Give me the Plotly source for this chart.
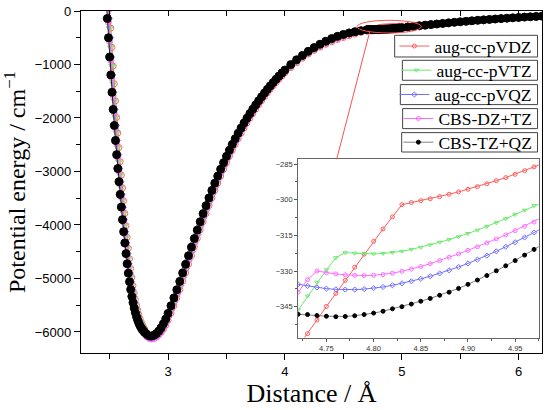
import plotly.graph_objects as go

# Distance grid (Å)
distance = [
    2.47, 2.48, 2.49, 2.50, 2.51, 2.52, 2.53, 2.54, 2.55, 2.56, 2.57, 2.58, 2.59, 2.60, 2.61, 2.62, 2.63,
    2.64, 2.65, 2.66, 2.67, 2.68, 2.69, 2.70, 2.71, 2.72, 2.73, 2.74, 2.75, 2.76, 2.77, 2.78, 2.79,
    2.80, 2.82, 2.84, 2.86, 2.88, 2.90, 2.92, 2.94, 2.96, 2.98,
    3.000, 3.025, 3.050, 3.075, 3.100, 3.125, 3.150, 3.175, 3.200, 3.225, 3.250, 3.275, 3.300, 3.325,
    3.350, 3.375, 3.400, 3.425, 3.450, 3.475, 3.500, 3.525, 3.550, 3.575, 3.600, 3.625, 3.650, 3.675,
    3.700, 3.725, 3.750, 3.775, 3.800, 3.825, 3.850, 3.875, 3.900, 3.925, 3.950, 3.975, 4.000,
    4.05, 4.10, 4.15, 4.20, 4.25, 4.30, 4.35, 4.40, 4.45, 4.50, 4.55, 4.60, 4.65,
    4.70, 4.71, 4.72, 4.73, 4.74, 4.75, 4.76, 4.77, 4.78, 4.79, 4.80, 4.81, 4.82, 4.83, 4.84, 4.85,
    4.86, 4.87, 4.88, 4.89, 4.90, 4.91, 4.92, 4.93, 4.94, 4.95, 4.96, 4.97, 4.98,
    5.00, 5.05, 5.10, 5.15, 5.20, 5.25, 5.30, 5.35, 5.40, 5.45, 5.50, 5.55, 5.60, 5.65, 5.70, 5.75,
    5.80, 5.85, 5.90, 5.95, 6.00, 6.05, 6.10, 6.15, 6.20,
]

# Potential energy (cm^-1)
e_avdz = [
    1100, 780, 420, 45, -320, -680, -1028, -1358, -1680, -1990, -2280, -2553, -2815, -3068, -3309, -3547, -3783,
    -4013, -4230, -4435, -4630, -4813, -4980, -5133, -5270, -5393, -5500, -5594, -5676, -5747, -5808, -5860, -5903,
    -5948, -6020, -6065, -6088, -6094, -6082, -6054, -6010, -5950, -5874,
    -5780, -5650, -5508, -5360, -5209, -5053, -4894, -4734, -4573, -4412, -4252, -4094, -3940, -3787,
    -3638, -3493, -3353, -3217, -3085, -2957, -2834, -2715, -2601, -2491, -2385, -2284, -2187, -2093,
    -2003, -1917, -1834, -1754, -1677, -1603, -1532, -1463, -1397, -1334, -1273, -1214, -1157,
    -1058, -967, -883, -806, -737, -676, -622, -575, -533, -496, -462, -431, -401,
    -373.0, -367.5, -362.0, -356.3, -350.6, -344.9, -339.4, -333.9, -328.4, -322.9, -317.5, -312.3, -307.2,
    -302.1, -301.2, -300.4, -299.6, -298.7, -297.7, -296.7, -295.6, -294.5, -293.3, -292.0, -290.7, -289.3,
    -287.8, -286.2, -284.6,
    -281.4, -273.4, -265.3, -257.1, -248.8, -240.4, -231.9, -223.4, -214.9, -206.4, -198.0, -189.8, -181.6,
    -173.5, -165.6, -157.8, -150.1, -142.6, -135.3, -128.2, -121.3, -114.6, -108.1, -101.8, -95.7,
]
e_avtz = [
    790, 415, 45, -320, -680, -1028, -1358, -1680, -1990, -2280, -2553, -2815, -3068, -3309, -3547, -3783, -4013,
    -4230, -4435, -4630, -4813, -4980, -5133, -5270, -5393, -5500, -5594, -5676, -5747, -5808, -5860, -5903, -5939,
    -5980, -6035, -6070, -6088, -6086, -6066, -6031, -5980, -5914, -5832,
    -5735, -5598, -5452, -5302, -5148, -4990, -4830, -4669, -4508, -4347, -4188, -4031, -3877, -3725,
    -3578, -3435, -3297, -3163, -3032, -2906, -2785, -2668, -2556, -2448, -2344, -2245, -2149, -2057,
    -1969, -1884, -1802, -1723, -1648, -1575, -1505, -1437, -1372, -1310, -1250, -1192, -1136,
    -1042, -952, -870, -795, -728, -668, -614, -566, -523, -484, -448, -416, -386,
    -357.8, -352.1, -346.3, -340.5, -334.7, -329.5, -324.4, -322.3, -322.5, -322.7, -322.8, -322.6, -322.2,
    -321.7, -320.9, -320.0, -319.0, -317.9, -316.8, -315.6, -314.2, -312.8, -311.3, -309.7, -308.0, -306.2,
    -304.4, -302.5, -300.6,
    -296.8, -287.3, -278.0, -268.8, -259.7, -250.7, -241.9, -231.5, -221.2, -211.2, -201.5, -192.0, -182.9,
    -174.0, -165.4, -157.1, -149.1, -141.4, -134.0, -126.9, -120.1, -113.6, -107.4, -101.5, -95.9,
]
e_avqz = [
    600, 230, -140, -500, -860, -1195, -1520, -1840, -2140, -2420, -2685, -2945, -3190, -3428, -3665, -3900, -4125,
    -4335, -4535, -4725, -4900, -5060, -5205, -5335, -5450, -5550, -5638, -5714, -5790, -5848, -5898, -5940, -5975,
    -6013, -6064, -6098, -6109, -6101, -6077, -6038, -5982, -5912, -5823,
    -5720, -5585, -5440, -5290, -5136, -4978, -4818, -4657, -4496, -4335, -4176, -4019, -3865, -3714,
    -3566, -3423, -3285, -3151, -3021, -2895, -2774, -2657, -2545, -2437, -2333, -2234, -2138, -2046,
    -1958, -1873, -1792, -1713, -1638, -1565, -1495, -1428, -1363, -1301, -1241, -1184, -1128,
    -1022, -930, -846, -770, -703, -643, -589, -541, -499, -461, -427, -396, -368,
    -340.5, -335.2, -335.6, -336.3, -336.9, -337.4, -337.7, -337.8, -337.8, -337.6, -337.2, -336.7, -336.0,
    -335.2, -334.3, -333.3, -332.2, -331.0, -329.7, -328.3, -326.8, -325.2, -323.5, -321.7, -319.8, -317.9,
    -315.9, -313.8, -311.7,
    -307.6, -297.6, -287.9, -276.6, -265.1, -253.8, -242.8, -232.1, -221.7, -211.6, -201.8, -192.3, -183.1,
    -174.2, -165.6, -157.3, -149.3, -141.6, -134.2, -127.1, -120.3, -113.8, -107.6, -101.7, -96.1,
]
e_cbs_dt = [
    530, 160, -210, -570, -925, -1260, -1585, -1900, -2195, -2475, -2735, -2995, -3238, -3475, -3707, -3940, -4163,
    -4373, -4572, -4760, -4933, -5090, -5233, -5362, -5477, -5577, -5666, -5744, -5815, -5875, -5927, -5970, -6007,
    -6045, -6095, -6122, -6131, -6123, -6098, -6056, -5998, -5923, -5831,
    -5722, -5586, -5441, -5291, -5137, -4979, -4819, -4658, -4497, -4337, -4178, -4021, -3867, -3716,
    -3569, -3427, -3289, -3155, -3025, -2899, -2778, -2662, -2550, -2442, -2338, -2239, -2143, -2051,
    -1963, -1878, -1797, -1718, -1643, -1570, -1500, -1433, -1368, -1306, -1246, -1188, -1133,
    -1025, -933, -850, -775, -708, -648, -595, -548, -506, -468, -434, -404, -376,
    -349.5, -344.2, -338.9, -333.6, -330.0, -330.7, -331.2, -331.6, -331.8, -331.9, -331.8, -331.5, -330.9,
    -330.1, -329.2, -328.1, -326.9, -325.6, -324.2, -322.8, -321.3, -319.8, -318.2, -316.5, -314.8, -313.0,
    -311.2, -309.4, -307.6,
    -303.9, -294.7, -285.6, -276.3, -265.0, -253.6, -242.6, -232.0, -221.6, -211.5, -201.7, -192.2, -183.0,
    -174.1, -165.5, -157.2, -149.2, -141.5, -134.1, -127.0, -120.2, -113.7, -107.5, -101.6, -96.0,
]
e_cbs_tq = [
    230, -140, -500, -860, -1195, -1520, -1840, -2140, -2420, -2685, -2945, -3190, -3428, -3665, -3900, -4125, -4335,
    -4535, -4725, -4900, -5060, -5205, -5335, -5450, -5550, -5638, -5714, -5780, -5836, -5883, -5922, -5955, -5983,
    -6008, -6048, -6074, -6077, -6061, -6030, -5984, -5923, -5848, -5758,
    -5653, -5510, -5363, -5211, -5055, -4896, -4736, -4575, -4414, -4254, -4096, -3941, -3788, -3639,
    -3494, -3354, -3218, -3086, -2958, -2835, -2716, -2602, -2492, -2386, -2285, -2188, -2094, -2004,
    -1918, -1835, -1755, -1678, -1604, -1533, -1464, -1398, -1335, -1274, -1215, -1158, -1104,
    -1002, -912, -830, -754, -684, -621, -565, -516, -474, -439, -410, -387, -368,
    -352.0, -349.8, -348.2, -348.3, -348.7, -349.0, -349.2, -349.1, -348.8, -348.3, -347.7, -346.9, -345.9,
    -345.0, -343.9, -342.7, -341.5, -340.2, -338.9, -337.3, -335.6, -333.8, -331.9, -329.9, -327.8, -325.6,
    -323.3, -320.9, -318.5,
    -313.5, -301.0, -288.8, -276.9, -265.3, -254.0, -243.0, -232.3, -221.9, -211.8, -202.0, -192.5, -183.3,
    -174.4, -165.8, -157.5, -149.5, -141.8, -134.4, -127.3, -120.5, -114.0, -107.8, -101.9, -96.3,
]

names = ["aug-cc-pVDZ", "aug-cc-pVTZ", "aug-cc-pVQZ", "CBS-DZ+TZ", "CBS-TZ+QZ"]
energies = [e_avdz, e_avtz, e_avqz, e_cbs_dt, e_cbs_tq]
colors = ["#ff5c5c", "#6ee86e", "#6f6fff", "#ff6cff", "#000000"]
line_colors = ["#ff5c5c", "#6ee86e", "#6f6fff", "#ff6cff", "#808080"]
symbols = ["circle-open", "triangle-down-open", "diamond-open", "circle-open", "circle"]
legend_ids = ["legend", "legend2", "legend3", "legend4", "legend5"]

# legend box frames (paper coordinates of the main plot area)
box_x0 = [0.6804, 0.6971, 0.6927, 0.6977, 0.6956]
box_x1 = 0.9903
box_y0 = [0.8655, 0.7974, 0.7263, 0.6561, 0.5877]
box_y1 = [0.9289, 0.8558, 0.7848, 0.7146, 0.6444]

SERIF = "Liberation Serif"
SANS = "Liberation Sans"

fig = go.Figure()

# main panel
for name, e, c, lc, s in zip(names, energies, colors, line_colors, symbols):
    black = name == "CBS-TZ+QZ"
    fig.add_trace(go.Scatter(
        x=distance, y=e, mode="lines+markers", xaxis="x", yaxis="y",
        line=dict(color="#222222" if black else c, width=1),
        marker=dict(symbol=s, size=8 if black else 6, color=c, line=dict(color=c, width=1)),
        showlegend=False, hoverinfo="skip"))

# empty trace that carries the inward top ticks of the main panel
fig.add_trace(go.Scatter(x=[None], y=[None], xaxis="x3", yaxis="y", showlegend=False, hoverinfo="skip"))

# inset panel
for name, e, c, lc, s, lg in zip(names, energies, colors, line_colors, symbols, legend_ids):
    fig.add_trace(go.Scatter(
        x=distance, y=e, mode="lines+markers", xaxis="x2", yaxis="y2", name=name,
        line=dict(color=lc, width=1),
        marker=dict(symbol=s, size=4, color=c, line=dict(color=c, width=1)),
        legend=lg, showlegend=True, hoverinfo="skip"))

tickfont = dict(family=SANS, size=13, color="black")
inset_font = dict(family=SANS, size=7.5, color="#333333")

shapes = [
    dict(type="circle", xref="x", yref="y", x0=4.617, x1=5.167, y0=-411, y1=-174,
         line=dict(color="#ff5050", width=1)),
    dict(type="line", xref="x", yref="y", x0=4.725, y0=-395, x1=4.443, y1=-2772,
         line=dict(color="#ff5050", width=1)),
]
for x0, y0, y1 in zip(box_x0, box_y0, box_y1):
    shapes.append(dict(type="rect", xref="paper", yref="paper", x0=x0, x1=box_x1, y0=y0, y1=y1,
                       line=dict(color="#444444", width=1), fillcolor="white", layer="below"))

layout = dict(
    width=550, height=410,
    margin=dict(l=81, r=7.5, t=10.7, b=57.3, pad=0),
    paper_bgcolor="white", plot_bgcolor="white",
    xaxis=dict(domain=[0, 1], anchor="y", range=[2.255, 6.2], dtick=1, tick0=0, automargin=False,
               ticks="outside", ticklen=6, tickwidth=1, tickcolor="black", ticklabeloverflow="allow",
               showline=True, linecolor="black", linewidth=1.3, mirror=True,
               showgrid=False, zeroline=False, tickfont=tickfont,
               minor=dict(dtick=0.5, tick0=0, ticks="outside", ticklen=5, tickcolor="black", showgrid=False),
               title=dict(text="Distance / Å", font=dict(family=SERIF, size=26, color="black"), standoff=4)),
    xaxis3=dict(overlaying="x", anchor="y", side="top", range=[2.255, 6.2], dtick=0.5, tick0=0,
                automargin=False, ticks="inside", ticklen=5, tickcolor="black", showticklabels=False,
                showline=False, showgrid=False, zeroline=False),
    yaxis=dict(domain=[0, 1], anchor="x", range=[-6393, 0], dtick=1000, tick0=0, automargin=False,
               ticks="outside", ticklen=6, tickwidth=1, tickcolor="black", ticklabeloverflow="allow",
               showline=True, linecolor="black", linewidth=1.3, mirror=True,
               showgrid=False, zeroline=False, tickfont=tickfont,
               minor=dict(dtick=500, tick0=0, ticks="outside", ticklen=3.5, tickcolor="black", showgrid=False),
               title=dict(text="Potential energy / cm<sup>−1</sup>",
                          font=dict(family=SERIF, size=24, color="black"), standoff=11)),
    xaxis2=dict(domain=[0.4709, 0.993], anchor="y2", range=[4.72, 4.975], dtick=0.05, tick0=4.75,
                automargin=False, tickformat=".2f", ticks="outside", ticklen=3, tickcolor="#555555",
                showline=True, linecolor="#666666", linewidth=1, mirror=True,
                showgrid=False, zeroline=False, tickfont=inset_font,
                minor=dict(dtick=0.025, tick0=4.75, ticks="outside", ticklen=2, tickcolor="#555555",
                           showgrid=False)),
    yaxis2=dict(domain=[0.045, 0.5664], anchor="x2", range=[-358, -283], dtick=15, tick0=0,
                automargin=False, ticks="outside", ticklen=3, tickcolor="#555555",
                showline=True, linecolor="#666666", linewidth=1, mirror=True,
                showgrid=False, zeroline=False, tickfont=inset_font,
                minor=dict(dtick=7.5, tick0=0, ticks="outside", ticklen=2, tickcolor="#555555",
                           showgrid=False)),
    shapes=shapes,
)
for lg, y0, y1 in zip(legend_ids, box_y0, box_y1):
    layout[lg] = dict(x=0.99, xanchor="right", y=(y0 + y1) / 2, yanchor="middle",
                      bgcolor="rgba(0,0,0,0)", borderwidth=0,
                      font=dict(family=SERIF, size=17.5, color="black"),
                      itemwidth=30, tracegroupgap=0)

fig.update_layout(**layout)
# remove the browser's default page margin so the figure sits at the window's corner
fig.write_html("out.html", config={"displayModeBar": False},
               post_script="document.body.style.margin='0px';")
